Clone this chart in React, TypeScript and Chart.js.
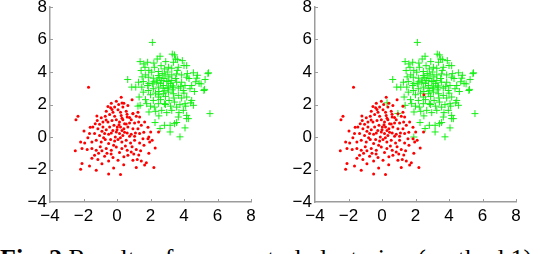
import React, { useEffect, useRef } from 'react';
import { Chart, registerables } from 'chart.js';

Chart.register(...registerables);

const xTicks = [-4, -2, 0, 2, 4, 6, 8];
const yTicks = [-4, -2, 0, 2, 4, 6, 8];
const captionBold = 'Fig. 2';
const captionText = ' Results of our spectral clustering (method 1) and k-means clustering (method 2)';

// class 1 (red dots)
const redPoints: number[][] = [
  [-1.70, 3.06], [-2.33, 1.27], [-2.45, 1.06], [0.25, 2.45], [-0.04, 2.20], [-0.34, 2.08], [-0.54, 1.88], [-0.38, 1.80],
  [0.41, 2.08], [0.35, 1.84], [0.65, 1.94], [-0.14, 1.84], [0.10, 2.00], [0.06, 1.67], [-0.64, 1.59], [-0.24, 1.53],
  [0.21, 1.53], [0.55, 1.59], [0.95, 1.43], [1.15, 1.27], [1.25, 1.53], [1.35, 1.23], [-0.94, 1.19], [-0.70, 1.27],
  [-0.44, 1.39], [-0.14, 1.27], [0.25, 1.33], [0.61, 1.23], [0.85, 1.06], [-1.18, 1.02], [-1.30, 0.82], [-1.04, 0.78],
  [-0.84, 0.92], [-0.54, 0.92], [-0.30, 1.02], [-0.04, 1.06], [0.15, 0.92], [0.35, 1.06], [0.45, 0.82], [0.75, 0.86],
  [1.05, 0.86], [1.29, 0.92], [1.45, 0.72], [1.65, 0.92], [-1.44, 0.61], [-1.14, 0.51], [-0.84, 0.61], [-0.64, 0.45],
  [-0.44, 0.61], [-0.18, 0.72], [0.02, 0.61], [0.21, 0.61], [0.41, 0.51], [0.65, 0.61], [0.95, 0.51], [1.25, 0.51],
  [-1.97, 0.37], [-1.64, 0.21], [-1.34, 0.21], [-1.04, 0.10], [-0.74, 0.21], [-0.50, 0.17], [-0.34, 0.25], [-0.04, 0.31],
  [0.15, 0.21], [0.35, 0.10], [0.61, 0.25], [0.85, 0.17], [1.05, 0.04], [1.35, 0.21], [1.85, -0.10], [2.48, 0.31],
  [-1.74, -0.04], [-2.17, -0.30], [-1.93, -0.37], [-1.50, -0.30], [-1.24, -0.20], [-0.94, -0.30], [-0.70, -0.16],
  [-0.38, -0.16], [-0.14, -0.24], [0.06, -0.16], [0.29, -0.30], [0.55, -0.20], [0.81, -0.37], [1.05, -0.20],
  [1.35, -0.37], [1.61, -0.51], [1.95, -0.30], [-2.49, -0.85], [-2.09, -0.71], [-1.78, -0.77], [-1.50, -0.71],
  [-1.24, -0.81], [-0.90, -0.85], [-0.64, -0.71], [-0.34, -0.81], [-0.04, -0.61], [0.29, -0.71], [0.61, -0.81],
  [0.85, -0.92], [1.15, -0.77], [1.41, -0.85], [2.28, -0.67], [-1.34, -1.12], [-1.14, -1.39], [-0.74, -1.18],
  [-0.50, -1.47], [-0.24, -1.26], [0.06, -1.43], [0.41, -1.22], [0.65, -1.12], [0.95, -1.43], [1.21, -1.39],
  [1.45, -1.47], [1.75, -1.59], [-2.09, -1.63], [-2.17, -1.99], [-1.64, -1.79], [-1.24, -2.04], [-0.50, -2.28],
  [0.21, -2.30], [1.15, -1.87], [1.65, -1.73], [2.20, -1.87], [2.01, 0.31],
  [0.0, 0.45], [0.12, 0.75], [-0.25, 0.4], [0.3, 0.4], [-0.1, 0.0], [0.2, -0.05], [0.45, 0.3], [-0.5, -0.4],
  [0.5, -0.55], [-0.2, -0.5], [0.75, 0.05], [-0.8, -0.05], [0.9, -0.6], [-0.6, -1.0], [0.15, -0.95], [1.0, -1.05],
  [-1.0, -0.6], [0.6, 1.4], [-0.3, 1.7], [0.9, 2.3], [1.1, 0.25], [1.6, 0.3], [1.55, -0.1], [-1.6, 0.6],
  [-1.2, 1.3], [-1.5, -1.3], [-0.9, -1.65], [0.4, -1.7], [-0.2, -1.9], [1.3, -1.1], [0.3, 1.15], [-0.65, 1.05],
  [0.75, 1.2], [-0.9, 0.35], [0.55, 0.8], [1.85, 0.6], [2.1, -0.2], [1.9, -1.0], [-1.1, -1.0], [-0.35, -1.05],
];

// class 2 (green crosses)
const greenPoints: number[][] = [
  [2.11, 5.82], [0.64, 3.54], [0.88, 3.07], [1.38, 4.64], [1.83, 4.60], [2.57, 4.97], [2.91, 4.64], [3.43, 5.05],
  [3.62, 4.76], [3.37, 4.60], [3.07, 4.29], [2.63, 4.39], [2.23, 4.29], [1.67, 4.29], [1.44, 4.09], [1.71, 3.82],
  [2.07, 3.99], [2.47, 4.03], [2.83, 4.19], [3.27, 4.23], [3.66, 4.29], [4.16, 4.39], [4.56, 3.95], [5.46, 3.95],
  [4.76, 3.62], [5.26, 3.54], [5.02, 3.27], [5.22, 2.93], [4.46, 3.17], [4.16, 3.68], [3.86, 3.82], [3.56, 3.88],
  [3.27, 3.82], [2.87, 3.82], [2.47, 3.78], [2.17, 3.62], [1.87, 3.68], [1.57, 3.41], [1.28, 3.37], [1.12, 3.07],
  [1.48, 3.07], [1.83, 3.17], [2.11, 3.27], [2.37, 3.37], [2.67, 3.48], [2.97, 3.41], [3.27, 3.48], [3.56, 3.37],
  [3.86, 3.37], [4.06, 3.17], [4.36, 2.97], [4.62, 2.80], [3.96, 2.86], [3.66, 3.01], [3.37, 3.07], [3.07, 3.07],
  [2.77, 3.17], [2.47, 3.07], [2.17, 2.97], [1.87, 2.86], [1.57, 2.76], [1.32, 2.46], [1.38, 1.95], [1.77, 2.05],
  [2.17, 2.25], [2.47, 2.46], [2.77, 2.66], [3.07, 2.76], [3.37, 2.66], [3.66, 2.56], [3.86, 2.40], [4.16, 2.46],
  [4.46, 2.25], [4.56, 1.95], [4.06, 2.05], [3.76, 1.99], [3.43, 2.15], [3.11, 2.25], [2.83, 2.05], [2.47, 2.05],
  [2.23, 1.84], [1.91, 1.54], [2.31, 1.58], [2.67, 1.64], [2.97, 1.50], [3.27, 1.64], [3.56, 1.84], [3.96, 1.64],
  [4.16, 1.33], [3.66, 1.23], [3.43, 0.82], [3.17, 0.72], [2.83, 0.72], [2.27, 0.89], [4.06, 0.56], [4.16, 1.13],
  [3.56, 0.89], [5.55, 1.44], [2.57, 0.52], [3.17, 0.31], [3.76, 0.01], [4.26, 1.13], [5.19, 2.86], [5.43, 3.90],
  [4.9, 3.3], [2.6, 3.3], [2.8, 3.6], [3.0, 3.0], [3.2, 3.3], [2.5, 2.8], [2.9, 2.5], [3.3, 2.9], [2.7, 3.9],
  [3.1, 3.7], [2.4, 3.5], [3.5, 3.6], [2.2, 3.4], [3.0, 4.0], [2.6, 2.3], [3.4, 2.4], [2.0, 2.6], [3.8, 3.1],
  [2.9, 2.0], [3.2, 1.9], [2.3, 2.7], [2.75, 3.0], [3.05, 3.45], [2.55, 3.65], [3.3, 3.15], [2.85, 2.85],
  [4.0, 4.4], [3.9, 4.7], [3.3, 5.1], [2.4, 4.8], [1.9, 4.1], [1.5, 3.7], [4.3, 3.6], [4.7, 3.4], [4.0, 2.7],
  [4.4, 2.1], [3.7, 1.5], [2.5, 1.3], [1.7, 2.3], [2.0, 1.9], [3.6, 4.1], [4.2, 3.9], [2.2, 4.55], [3.5, 4.8],
  [1.9, 3.3], [4.1, 1.9], [1.6, 4.5], [4.8, 3.8],
];

// points whose label differs between the two panels
const flipToGreen: number[][] = [[0.3, 2.1], [0.95, 1.45], [1.9, 0.0]]; // red on left, green on right
const flipToRed: number[][] = [[2.5, 2.6], [1.25, 1.9]]; // green on left, red on right

const AXIS_COLOR = '#9c9c9c';
const TICK_FONT = { family: '"Liberation Sans", Arial, sans-serif', size: 17 };

const toXY = (pts: number[][]) => pts.map(([x, y]) => ({ x, y }));
const fmt = (v: any) => String(v).replace('-', '\u2212');

const innerTicks = {
  id: 'innerTicks',
  afterDraw(chart: any) {
    const { ctx, chartArea, scales } = chart;
    ctx.save();
    ctx.strokeStyle = AXIS_COLOR;
    ctx.lineWidth = 1;
    scales.x.ticks.forEach((t: any) => {
      if (t.value === scales.x.min) return;
      const px = Math.round(scales.x.getPixelForValue(t.value)) + 0.5;
      ctx.beginPath();
      ctx.moveTo(px, chartArea.bottom);
      ctx.lineTo(px, chartArea.bottom - 3);
      ctx.stroke();
    });
    scales.y.ticks.forEach((t: any) => {
      if (t.value === scales.y.min) return;
      const py = Math.round(scales.y.getPixelForValue(t.value)) + 0.5;
      ctx.beginPath();
      ctx.moveTo(chartArea.left, py);
      ctx.lineTo(chartArea.left + 3, py);
      ctx.stroke();
    });
    ctx.restore();
  },
};

function Plot({ red, green, yWidth, rightPad, left }: { red: number[][]; green: number[][]; yWidth: number; rightPad: number; left: number }) {
  const ref = useRef<HTMLCanvasElement | null>(null);
  useEffect(() => {
    const chart = new Chart(ref.current as HTMLCanvasElement, {
      type: 'scatter',
      data: {
        datasets: [
          {
            data: toXY(red),
            pointStyle: 'circle',
            pointRadius: 1.5,
            backgroundColor: '#ff0000',
            borderWidth: 0,
          },
          {
            data: toXY(green),
            pointStyle: 'cross',
            pointRadius: 3.5,
            borderColor: 'rgb(20,240,20)',
            borderWidth: 1,
          },
        ],
      },
      options: {
        animation: false,
        responsive: false,
        devicePixelRatio: 1,
        events: [],
        layout: { padding: { top: 7, right: rightPad, left: 0, bottom: 0 } },
        plugins: { legend: { display: false }, tooltip: { enabled: false } },
        scales: {
          x: {
            type: 'linear',
            min: -4,
            max: 8,
            afterBuildTicks: (s: any) => { s.ticks = xTicks.map((v) => ({ value: v })); },
            afterFit: (s: any) => { s.height = 28; s.paddingLeft = 0; s.paddingRight = 0; },
            grid: { display: false, drawTicks: false },
            border: { display: true, color: AXIS_COLOR, width: 1.5 },
            ticks: { font: TICK_FONT, color: '#000', padding: 4, maxRotation: 0, autoSkip: false, callback: fmt },
          },
          y: {
            type: 'linear',
            min: -4,
            max: 8,
            afterBuildTicks: (s: any) => { s.ticks = yTicks.map((v) => ({ value: v })); },
            afterFit: (s: any) => { s.width = yWidth; s.paddingTop = 0; s.paddingBottom = 0; },
            grid: { display: false, drawTicks: false },
            border: { display: true, color: AXIS_COLOR, width: 1.5 },
            ticks: { font: TICK_FONT, color: '#000', padding: 3, autoSkip: false, callback: fmt },
          },
        },
      } as any,
      plugins: [innerTicks],
    });
    return () => chart.destroy();
  }, []);
  return (
    <canvas
      ref={ref}
      width={270}
      height={230}
      style={{ position: 'absolute', left, top: 0, width: 270, height: 230, display: 'block' }}
    />
  );
}

export default function App() {
  return (
    <div style={{ position: 'absolute', left: 0, top: 0, width: 540, height: 254, overflow: 'hidden', background: '#fff' }}>
      <Plot red={redPoints.concat(flipToGreen)} green={greenPoints.concat(flipToRed)} yWidth={50} rightPad={19} left={0} />
      <Plot red={redPoints.concat(flipToRed)} green={greenPoints.concat(flipToGreen)} yWidth={45} rightPad={24} left={270} />
      <div
        style={{
          position: 'absolute',
          left: 0,
          top: 246,
          fontFamily: '"Liberation Serif", "Times New Roman", serif',
          fontSize: 26,
          lineHeight: '26px',
          whiteSpace: 'nowrap',
          color: '#000',
        }}
      >
        <b>{captionBold}</b>
        {captionText}
      </div>
    </div>
  );
}
